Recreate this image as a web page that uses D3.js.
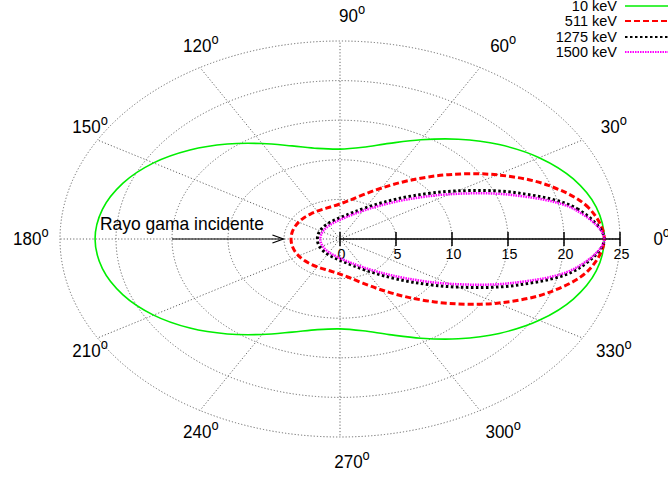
<!DOCTYPE html>
<html>
<head>
<meta charset="utf-8">
<script src="https://cdn.jsdelivr.net/npm/d3@7"></script>
<style>
  body { margin: 0; background: #fff; }
  svg { display: block; font-family: "Liberation Sans", Arial, sans-serif; }
</style>
</head>
<body>
<div id="chart"></div>
<script>
// scattering angle (deg) and radial value (curves are symmetric about 0/180)
const angles = [0, 10, 20, 30, 40, 50, 60, 70, 80, 90, 100, 110, 120, 130, 140, 150, 160, 170, 180];
const r10 = [23.6, 23.23, 22.17, 20.54, 18.55, 16.44, 14.47, 12.85, 11.77, 11.35, 11.62, 12.51, 13.92, 15.65, 17.49, 19.22, 20.62, 21.54, 21.87];
const r511 = [23.6, 22.56, 19.8, 16.2, 12.64, 9.66, 7.43, 5.92, 4.97, 4.43, 4.16, 4.06, 4.06, 4.11, 4.19, 4.26, 4.32, 4.36, 4.37];
const r1275 = [23.6, 21.59, 16.96, 12.15, 8.48, 6.05, 4.54, 3.61, 3.04, 2.69, 2.46, 2.31, 2.21, 2.14, 2.09, 2.06, 2.04, 2.03, 2.02];
const r1500 = [23.6, 21.32, 16.27, 11.31, 7.74, 5.48, 4.11, 3.28, 2.76, 2.43, 2.21, 2.06, 1.96, 1.88, 1.83, 1.8, 1.77, 1.76, 1.75];

const seriesNames = ['10 keV', '511 keV', '1275 keV', '1500 keV'];
const rTicks = [0, 5, 10, 15, 20, 25];
const gridRadii = [5, 10, 15, 20, 25];
const angleTicks = [0, 30, 60, 90, 120, 150, 180, 210, 240, 270, 300, 330];
const arrowText = 'Rayo gama incidente';

const width = 668, height = 483;
const cx = 340, cy = 239;
const rx = d3.scaleLinear().domain([0, 25]).range([0, 280]);
const ry = d3.scaleLinear().domain([0, 25]).range([0, 198]);
const rad = (a) => (a * Math.PI) / 180;
const px = (a, r) => cx + rx(r) * Math.cos(rad(a));
const py = (a, r) => cy - ry(r) * Math.sin(rad(a));

const svg = d3.select('#chart').append('svg').attr('width', width).attr('height', height);

// polar grid
const grid = svg.append('g').attr('stroke', '#666').attr('stroke-width', 1).attr('stroke-dasharray', '1.2,2').attr('fill', 'none');
grid.selectAll('ellipse').data(gridRadii).join('ellipse')
  .attr('cx', cx).attr('cy', cy)
  .attr('rx', (d) => rx(d)).attr('ry', (d) => ry(d));
grid.selectAll('line').data(angleTicks).join('line')
  .attr('x1', cx).attr('y1', cy)
  .attr('x2', (d) => px(d, 25)).attr('y2', (d) => py(d, 25));

// angle labels
const lab = svg.append('g').attr('fill', '#000');
angleTicks.forEach((a) => {
  const c = Math.cos(rad(a));
  let x = cx + rx(27) * c + 12;
  let anchor = 'middle';
  if (c > 0.99) { x = cx + rx(27) + 11; anchor = 'start'; }
  if (c < -0.99) { x = cx - rx(27) + 11; anchor = 'end'; }
  const y = cy - ry(28.2) * Math.sin(rad(a)) + 6;
  const t = lab.append('text')
    .attr('transform', `translate(${x},${y}) scale(0.92,1)`)
    .attr('text-anchor', anchor)
    .attr('font-size', 18.5);
  t.append('tspan').text(a);
  t.append('tspan').attr('font-size', 14).attr('dy', -8).text('o');
});

// radial axis along 0 deg
const axis = svg.append('g').attr('stroke', '#000').attr('stroke-width', 1.5);
axis.append('line').attr('x1', cx).attr('x2', px(0, 25)).attr('y1', cy).attr('y2', cy);
axis.selectAll('line.tick').data(rTicks).join('line').attr('class', 'tick')
  .attr('x1', (d) => px(0, d)).attr('x2', (d) => px(0, d))
  .attr('y1', cy - 7).attr('y2', cy + 7);
svg.append('g').selectAll('text').data(rTicks).join('text')
  .attr('transform', (d) => `translate(${px(0, d) + 1.5},${cy + 20}) scale(0.92,1)`)
  .attr('text-anchor', 'middle')
  .attr('font-size', 15.5)
  .text((d) => d);

// curves
const styles = [
  { data: r10, color: '#00ee00', w: 1.6, dash: null },
  { data: r511, color: '#ff0000', w: 3, dash: '6,3' },
  { data: r1275, color: '#000000', w: 3, dash: '2.5,2.5' },
  { data: r1500, color: '#ff00ff', w: 2.5, dash: '1.5,1' },
];
const line = d3.line().x((d) => px(d[0], d[1])).y((d) => py(d[0], d[1])).curve(d3.curveCatmullRomClosed);
styles.forEach((s) => {
  const pts = angles.map((a, i) => [a, s.data[i]]);
  const lower = angles.slice(1, -1).reverse().map((a) => [360 - a, s.data[angles.indexOf(a)]]);
  svg.append('path')
    .datum(pts.concat(lower))
    .attr('d', line)
    .attr('fill', 'none')
    .attr('stroke', s.color)
    .attr('stroke-width', s.w)
    .attr('stroke-dasharray', s.dash);
});

// incident ray arrow
const ax1 = px(180, 15), ax2 = px(180, 5.05);
svg.append('line').attr('x1', ax1).attr('x2', ax2).attr('y1', cy).attr('y2', cy).attr('stroke', '#000').attr('stroke-width', 1.2);
svg.append('path')
  .attr('d', `M${ax2 - 11},${cy - 4}L${ax2},${cy}L${ax2 - 11},${cy + 4}`)
  .attr('fill', 'none').attr('stroke', '#000').attr('stroke-width', 1.2);
svg.append('text')
  .attr('transform', `translate(100,230) scale(0.97,1)`)
  .attr('font-size', 18)
  .text(arrowText);

// legend
seriesNames.forEach((name, i) => {
  const y = 6 + Math.round(i * 15.3);
  svg.append('text')
    .attr('x', 617).attr('y', y + 5)
    .attr('text-anchor', 'end')
    .attr('font-size', 14.5)
    .text(name);
  svg.append('line')
    .attr('x1', 625).attr('x2', 672).attr('y1', y).attr('y2', y)
    .attr('stroke', styles[i].color)
    .attr('stroke-width', i === 0 ? 1.5 : 2)
    .attr('stroke-dasharray', styles[i].dash);
});
</script>
</body>
</html>
